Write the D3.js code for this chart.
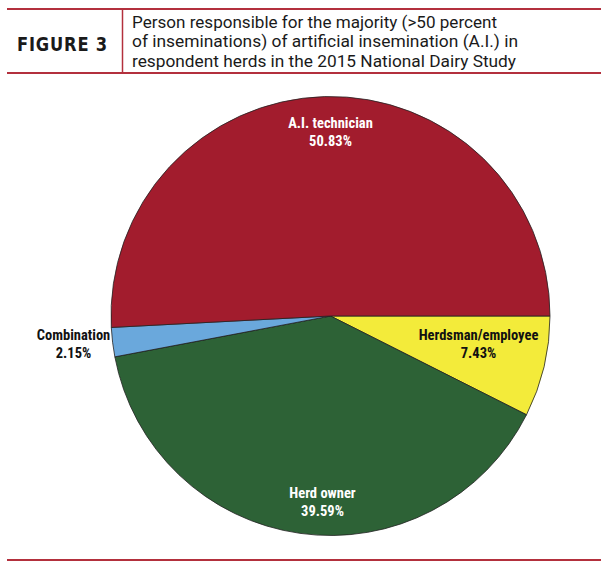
<!DOCTYPE html>
<html><head><meta charset="utf-8">
<script src="https://cdn.jsdelivr.net/npm/d3@7"></script>
<style>body{margin:0;background:#fff}svg{display:block}</style>
</head><body>
<svg id="chart" width="610" height="571"></svg>
<script>
const categories = ["Herdsman/employee", "Herd owner", "Combination", "A.I. technician"];
const values = [7.43, 39.59, 2.15, 50.83];
const valueLabels = ["7.43%", "39.59%", "2.15%", "50.83%"];
const colors = ["#F3EB3A", "#2D6236", "#6AA8DC", "#A21C2D"];
const titleLines = ["Person responsible for the majority (>50 percent",
  "of inseminations) of artificial insemination (A.I.) in",
  "respondent herds in the 2015 National Dairy Study"];
const titleWidths = [365, 386, 384];

const svg = d3.select("#chart");
const rule = "#B3303D";
// header rules
svg.append("line").attr("x1",7).attr("x2",601).attr("y1",9).attr("y2",9).attr("stroke",rule).attr("stroke-width",2);
svg.append("line").attr("x1",7).attr("x2",601).attr("y1",73).attr("y2",73).attr("stroke",rule).attr("stroke-width",2);
svg.append("line").attr("x1",122.5).attr("x2",122.5).attr("y1",9).attr("y2",73).attr("stroke",rule).attr("stroke-width",1.5);
svg.append("line").attr("x1",7).attr("x2",601).attr("y1",560).attr("y2",560).attr("stroke",rule).attr("stroke-width",2);

svg.append("text").attr("x",17).attr("y",51).attr("font-family","'DejaVu Sans', sans-serif")
  .attr("font-weight","bold").attr("font-size",20).attr("letter-spacing",1).attr("fill","#1a1a1a")
  .attr("textLength",91).attr("lengthAdjust","spacingAndGlyphs").text("FIGURE 3");
svg.append("g").selectAll("text").data(titleLines).join("text")
  .attr("x",132).attr("y",(d,i)=>28+i*19.3).attr("font-family","Roboto, sans-serif")
  .attr("font-size",16).attr("fill","#1a1a1a")
  .attr("textLength",(d,i)=>titleWidths[i]).attr("lengthAdjust","spacingAndGlyphs").text(d=>d);

const cx = 330.5, cy = 316, r = 219.5;
const pie = d3.pie().sort(null).value(d=>d).startAngle(Math.PI/2).endAngle(Math.PI/2+2*Math.PI);
const arcs = pie(values);
const arc = d3.arc().innerRadius(0).outerRadius(r);
const g = svg.append("g").attr("transform",`translate(${cx},${cy})`);
g.selectAll("path").data(arcs).join("path").attr("d",arc)
  .attr("fill",(d,i)=>colors[i]).attr("stroke","#222").attr("stroke-width",0.8);

// label positions (relative to center) estimated from reference
const labelPos = [[148,24],[-8,182],[-257,24],[0,-188]];
const labelFill = ["#111","#fff","#111","#fff"];
const lab = svg.append("g").attr("font-family","'Liberation Sans Narrow','Arial Narrow','Roboto Condensed',sans-serif")
  .attr("font-weight","bold").attr("font-size",14.5).attr("text-anchor","middle");
categories.forEach((c,i)=>{
  const t = lab.append("text").attr("transform",`translate(${cx+labelPos[i][0]},${cy+labelPos[i][1]})`).attr("fill",labelFill[i]);
  t.append("tspan").attr("x",0).attr("y",0).text(c);
  t.append("tspan").attr("x",0).attr("y",18).text(valueLabels[i]);
});
</script>
</body></html>
